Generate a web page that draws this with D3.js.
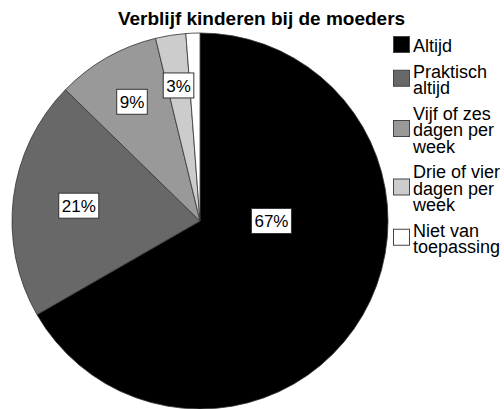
<!DOCTYPE html>
<html>
<head>
<meta charset="utf-8">
<script src="https://cdn.jsdelivr.net/npm/d3@7"></script>
<style>
  body { margin: 0; background: #fff; }
  text { font-family: "Liberation Sans", Arial, sans-serif; }
</style>
</head>
<body>
<div class="pie"></div>
<script>

// DATA ------------------------------
const categories = ["Altijd", "Praktisch altijd", "Vijf of zes dagen per week", "Drie of vier dagen per week", "Niet van toepassing"];
const percentages = [66.7, 20.6, 8.9, 2.6, 1.2];
const legendLines = [
  ["Altijd"],
  ["Praktisch", "altijd"],
  ["Vijf of zes", "dagen per", "week"],
  ["Drie of vier", "dagen per", "week"],
  ["Niet van", "toepassing"]
];
const title = "Verblijf kinderen bij de moeders";

// CHART INIT ------------------------------
const width = 504, height = 409;
const cx = 200, cy = 221, radius = 188;

const svg = d3.select(".pie").append("svg")
  .attr("width", width)
  .attr("height", height);

const color = d3.scaleOrdinal()
  .domain(categories)
  .range(["#000000", "#686868", "#999999", "#cccccc", "#ffffff"]);

const data = categories.map((c, i) => ({category: c, value: percentages[i]}));

const pie = d3.pie()
  .sort(null)
  .value(d => d.value);

const arc = d3.arc()
  .innerRadius(0)
  .outerRadius(radius);

const g = svg.append("g")
  .attr("transform", `translate(${cx},${cy})`);

const arcs = pie(data);

g.selectAll(".slice")
  .data(arcs)
  .enter()
  .append("path")
  .attr("class", "slice")
  .attr("d", arc)
  .attr("fill", d => color(d.data.category))
  .attr("stroke", "#333")
  .attr("stroke-width", 0.8);

// labels: big slice uses the half it mostly fills
const labelRadius = [0.38, 0.65, 0.73, 0.73, 0.73];
const labels = g.selectAll(".lbl")
  .data(arcs.filter(d => Math.round(d.data.value) >= 2))
  .enter()
  .append("g")
  .attr("class", "lbl")
  .attr("transform", d => {
    let a0 = d.startAngle, a1 = d.endAngle;
    if (a1 - a0 > Math.PI) a1 = a0 + Math.PI;
    const a = (a0 + a1) / 2;
    const r = radius * labelRadius[d.index];
    return `translate(${r * Math.sin(a)},${-r * Math.cos(a)})`;
  });

labels.append("text")
  .attr("text-anchor", "middle")
  .attr("dy", "0.36em")
  .attr("font-size", 17)
  .attr("fill", "#000")
  .text(d => Math.round(d.data.value) + "%");

labels.each(function() {
  const gg = d3.select(this);
  const bb = gg.select("text").node().getBBox();
  gg.insert("rect", "text")
    .attr("x", bb.x - 3)
    .attr("y", -12.5)
    .attr("width", bb.width + 6)
    .attr("height", 25)
    .attr("fill", "#fff")
    .attr("stroke", "#333")
    .attr("stroke-width", 1);
});

// title
svg.append("text")
  .attr("x", 261.5)
  .attr("y", 25)
  .attr("text-anchor", "middle")
  .attr("font-size", 19)
  .attr("font-weight", "bold")
  .attr("fill", "#000")
  .text(title);

// legend
const lineH = 16.5, entryGap = 9, capH = 13;
let baseline = 52;
const legend = svg.append("g").attr("class", "legend");

legendLines.forEach((lines, i) => {
  const first = baseline;
  const last = first + (lines.length - 1) * lineH;
  const mid = (first - capH + last) / 2;

  legend.append("rect")
    .attr("x", 393.5)
    .attr("y", mid - 9)
    .attr("width", 16)
    .attr("height", 16)
    .attr("fill", color(categories[i]))
    .attr("stroke", "#444")
    .attr("stroke-width", 1);

  const t = legend.append("text")
    .attr("x", 413)
    .attr("y", first)
    .attr("font-size", 18)
    .attr("fill", "#000");
  lines.forEach((ln, j) => {
    t.append("tspan")
      .attr("x", 413)
      .attr("y", first + j * lineH)
      .text(ln);
  });

  baseline = last + lineH + entryGap;
});

</script>
</body>
</html>
